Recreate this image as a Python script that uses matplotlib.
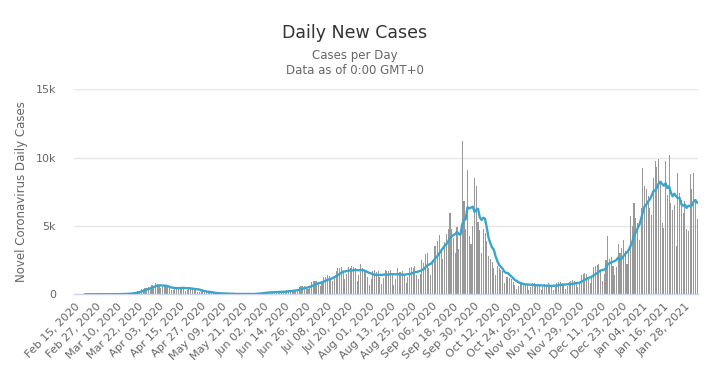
import matplotlib
matplotlib.use('Agg')
import matplotlib.pyplot as plt
import numpy as np
import pandas as pd

# Daily new cases (one value per day, Feb 15 2020 onwards)
feb_2020 = [0, 0, 0, 0, 0, 0, 1, 0, 0, 0, 0, 0, 1, 0, 0]
mar_2020 = [3, 0, 2, 3, 4, 5, 4, 6, 11, 14, 17, 24, 30, 33, 40, 50, 55, 85,
            115, 170, 180, 230, 250, 370, 400, 450, 490, 520, 560, 650, 620]
apr_2020 = [800, 740, 700, 480, 510, 600, 560, 520, 480, 330, 330, 400, 560,
            520, 560, 520, 400, 250, 300, 560, 450, 420, 400, 280, 150, 180,
            260, 220, 190, 170]
may_2020 = [120, 60, 70, 90, 80, 75, 70, 50, 20, 30, 40, 35, 30, 25, 20, 10,
            15, 30, 25, 30, 20, 15, 8, 10, 25, 30, 40, 60, 80, 60, 100]
jun_2020 = [140, 160, 180, 170, 150, 90, 120, 210, 230, 220, 200, 160, 130,
            170, 300, 320, 340, 320, 280, 220, 300, 520, 580, 640, 620, 500,
            380, 550, 900, 950]
jul_2020 = [1000, 1000, 880, 620, 800, 1300, 1300, 1400, 1350, 1100, 1000,
            1350, 1700, 1900, 1950, 2000, 1700, 1100, 1500, 2000, 1950, 2050,
            1980, 1900, 1000, 1400, 2200, 1900, 1800, 1700, 1300]
aug_2020 = [700, 1100, 1700, 1800, 1600, 1700, 1300, 750, 1200, 1800, 1700,
            1700, 1800, 1400, 700, 1100, 1950, 1600, 1600, 1700, 1400, 800,
            1300, 1900, 2000, 1900, 2100, 1400, 1100, 1500, 2500]
sep_2020 = [2300, 2950, 3000, 1900, 1400, 2500, 3550, 3500, 3900, 4360, 3200,
            2600, 3800, 4400, 4800, 5950, 4800, 4100, 3000, 4900, 3300, 4500,
            11200, 6800, 4800, 9100, 4300, 3700, 5000, 8500]
oct_2020 = [7900, 5300, 4700, 3000, 4800, 4500, 3900, 2800, 2600, 2400, 1900,
            1400, 2100, 1900, 1800, 1700, 800, 1300, 1300, 1200, 1100, 900,
            700, 400, 600, 900, 900, 850, 750, 650, 350]
nov_2020 = [500, 800, 800, 780, 750, 640, 300, 500, 750, 700, 800, 700, 550,
            350, 550, 850, 900, 900, 800, 650, 400, 600, 900, 1000, 1050, 950,
            780, 500, 800, 1400]
dec_2020 = [1500, 1550, 1450, 1200, 800, 1200, 2000, 2100, 2150, 2200, 1750,
            1000, 1500, 2500, 4300, 2600, 2700, 2100, 1400, 2000, 3700, 3000,
            3400, 4000, 3200, 2200, 3300, 5700, 5000, 6700, 5600]
jan_2021 = [5200, 4000, 6300, 9260, 7900, 7670, 7180, 6300, 5830, 8500, 9750,
            9300, 9870, 8160, 5200, 4850, 9750, 7300, 10200, 6700, 6200, 6500,
            3500, 8900, 7400, 6930, 5950, 6800, 4780, 4600, 8770]
feb_2021 = [7670, 8900, 6800, 5500]

first_day = '2020-02-15'
label_step = 12   # a date label every 12 days
y_ticks = [0, 5000, 10000, 15000]
y_tick_labels = ['0', '5k', '10k', '15k']

daily_cases = np.array(feb_2020 + mar_2020 + apr_2020 + may_2020 + jun_2020 +
                       jul_2020 + aug_2020 + sep_2020 + oct_2020 + nov_2020 +
                       dec_2020 + jan_2021 + feb_2021, dtype=float)
dates = pd.date_range(first_day, periods=len(daily_cases), freq='D')
moving_avg = pd.Series(daily_cases).rolling(7).mean()

x = np.arange(len(daily_cases))

fig = plt.figure(figsize=(7.1, 3.74), dpi=100)
ax = fig.add_axes([74 / 710, 1 - 294.3 / 374, 624 / 710, 205 / 374])

ax.bar(x, daily_cases, width=0.6, color='#999999', zorder=2)
ax.plot(x, moving_avg, color='#3aa5cc', lw=1.7, zorder=3)

ax.set_xlim(-0.5, len(daily_cases) - 0.5)
ax.set_ylim(0, 15000)

# grid and axes in the highcharts look
ax.set_yticks(y_ticks)
ax.set_yticklabels(y_tick_labels)
ax.yaxis.grid(True, color='#e6e6e6', lw=1, zorder=0)
ax.set_axisbelow(True)
for side in ['top', 'right', 'left']:
    ax.spines[side].set_visible(False)
ax.spines['bottom'].set_color('#ccd6eb')
ax.spines['bottom'].set_linewidth(1)
ax.tick_params(axis='y', length=0, pad=13, labelsize=8, labelcolor='#666666')

tick_idx = x[::label_step]
ax.set_xticks(tick_idx)
ax.set_xticklabels([d.strftime('%b %d, %Y') for d in dates[tick_idx]],
                   rotation=45, ha='right', rotation_mode='anchor')
ax.tick_params(axis='x', length=0, pad=5, labelsize=8, labelcolor='#666666')

ax.set_ylabel('Novel Coronavirus Daily Cases', fontsize=8.5, color='#666666',
              labelpad=5)

fig.text(355 / 710, 1 - 33 / 374, 'Daily New Cases', ha='center',
         va='center', fontsize=12.5, color='#333333')
fig.text(355 / 710, 1 - 56 / 374, 'Cases per Day', ha='center', va='center',
         fontsize=8.5, color='#666666')
fig.text(355 / 710, 1 - 70 / 374, 'Data as of 0:00 GMT+0', ha='center',
         va='center', fontsize=8.5, color='#666666')

fig.savefig('out.png', dpi=100, facecolor='white')
